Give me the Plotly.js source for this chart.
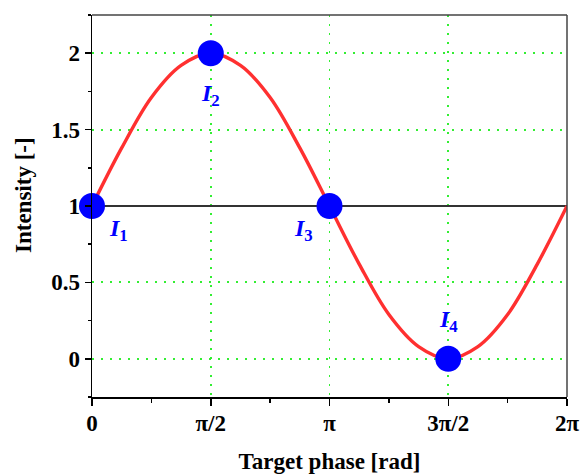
<!DOCTYPE html>
<html>
<head>
<meta charset="utf-8">
<script src="https://cdn.plot.ly/plotly-3.0.1.min.js"></script>
<style>
  html, body { margin: 0; padding: 0; background: #fff; }
  #chart { width: 584px; height: 474px; }
</style>
</head>
<body>
<div id="chart"></div>
<script>
// Phase in units of pi, sampled every pi/8
const phase = [0, 0.125, 0.25, 0.375, 0.5, 0.625, 0.75, 0.875, 1,
               1.125, 1.25, 1.375, 1.5, 1.625, 1.75, 1.875, 2];
const intensity = [1, 1.38, 1.71, 1.92, 2, 1.92, 1.71, 1.38, 1,
                   0.62, 0.29, 0.08, 0, 0.08, 0.29, 0.62, 1];

// The four sampled phase steps
const samplePhase = [0, 0.5, 1, 1.5];
const sampleIntensity = [1, 2, 1, 0];
const sampleNames = ['1', '2', '3', '4'];

// Mean intensity level
const meanPhase = [0, 2];
const meanLevel = [1, 1];

// Tick labels of the phase axis
const phaseTicks = [0, 0.5, 1, 1.5, 2];
const phaseTickText = ['0', 'π/2', 'π', '3π/2', '2π'];

const font = 'Liberation Serif, Times New Roman, serif';
const gridDash = '2px,7px';

const traces = [
  {
    x: meanPhase, y: meanLevel, mode: 'lines',
    line: { color: '#333333', width: 1.8 },
    hoverinfo: 'skip', showlegend: false
  },
  {
    x: phase, y: intensity, mode: 'lines',
    line: { color: '#ff3030', width: 3.4, shape: 'spline', smoothing: 1 },
    showlegend: false
  },
  {
    x: samplePhase, y: sampleIntensity, mode: 'markers',
    marker: { color: '#0000ff', size: 26, line: { width: 0 } },
    cliponaxis: false, showlegend: false
  }
];

// Label offsets (pixels, right / down) for each sample point
const labelOffsets = [[26, 24], [0, 42], [-26, 24], [0, -38]];

const annotations = samplePhase.map((p, i) => ({
  x: p, y: sampleIntensity[i], xref: 'x', yref: 'y',
  text: '<b><i>I</i><sub>' + sampleNames[i] + '</sub></b>',
  showarrow: false,
  xshift: labelOffsets[i][0], yshift: -labelOffsets[i][1],
  font: { family: font, size: 24, color: '#0000ff' }
}));

// Vertical axis title
annotations.push({
  xref: 'paper', yref: 'paper', x: -69 / 475, y: 202 / 382,
  xanchor: 'center', yanchor: 'middle', textangle: -90,
  text: '<b>Intensity [-]</b>', showarrow: false,
  font: { family: font, size: 23, color: '#000' }
});

const layout = {
  width: 584, height: 474,
  margin: { l: 92, r: 17, t: 15, b: 77 },
  paper_bgcolor: '#ffffff', plot_bgcolor: '#ffffff',
  font: { family: font, color: '#000000' },
  xaxis: {
    range: [0, 2],
    tickmode: 'array', tickvals: phaseTicks, ticktext: phaseTickText,
    ticks: 'outside', ticklen: 7, tickwidth: 1.5, tickcolor: '#000',
    minor: { tickmode: 'linear', tick0: 0, dtick: 0.25, ticks: 'outside', ticklen: 4, tickwidth: 1.5, tickcolor: '#000', showgrid: false },
    tickfont: { family: font, size: 23, color: '#000', weight: 'bold' },
    ticklabelstandoff: -2,
    showline: true, linecolor: '#000', linewidth: 1.5,
    showgrid: true, gridcolor: '#33ee33', griddash: gridDash, gridwidth: 1.8,
    zeroline: false,
    title: { text: '<b>Target phase [rad]</b>', font: { family: font, size: 23, color: '#000' }, standoff: 18 }
  },
  yaxis: {
    range: [-0.25, 2.25],
    tickmode: 'linear', tick0: 0, dtick: 0.5,
    ticks: 'outside', ticklen: 6, tickwidth: 1.5, tickcolor: '#000',
    minor: { tickmode: 'linear', tick0: 0, dtick: 0.25, ticks: 'outside', ticklen: 3, tickwidth: 1.5, tickcolor: '#000', showgrid: false },
    tickfont: { family: font, size: 23, color: '#000', weight: 'bold' },
    showline: true, linecolor: '#000', linewidth: 1.5,
    showgrid: true, gridcolor: '#33ee33', griddash: gridDash, gridwidth: 1.8,
    zeroline: false
  },
  shapes: [
    // top and right frame edges
    { type: 'line', xref: 'paper', yref: 'paper', x0: 0, x1: 1, y0: 1, y1: 1, line: { color: '#444', width: 1.5 } },
    { type: 'line', xref: 'paper', yref: 'paper', x0: 1, x1: 1, y0: 0, y1: 1, line: { color: '#444', width: 1.5 } }
  ],
  annotations: annotations
};

Plotly.newPlot('chart', traces, layout, { displayModeBar: false, staticPlot: true });
</script>
</body>
</html>
